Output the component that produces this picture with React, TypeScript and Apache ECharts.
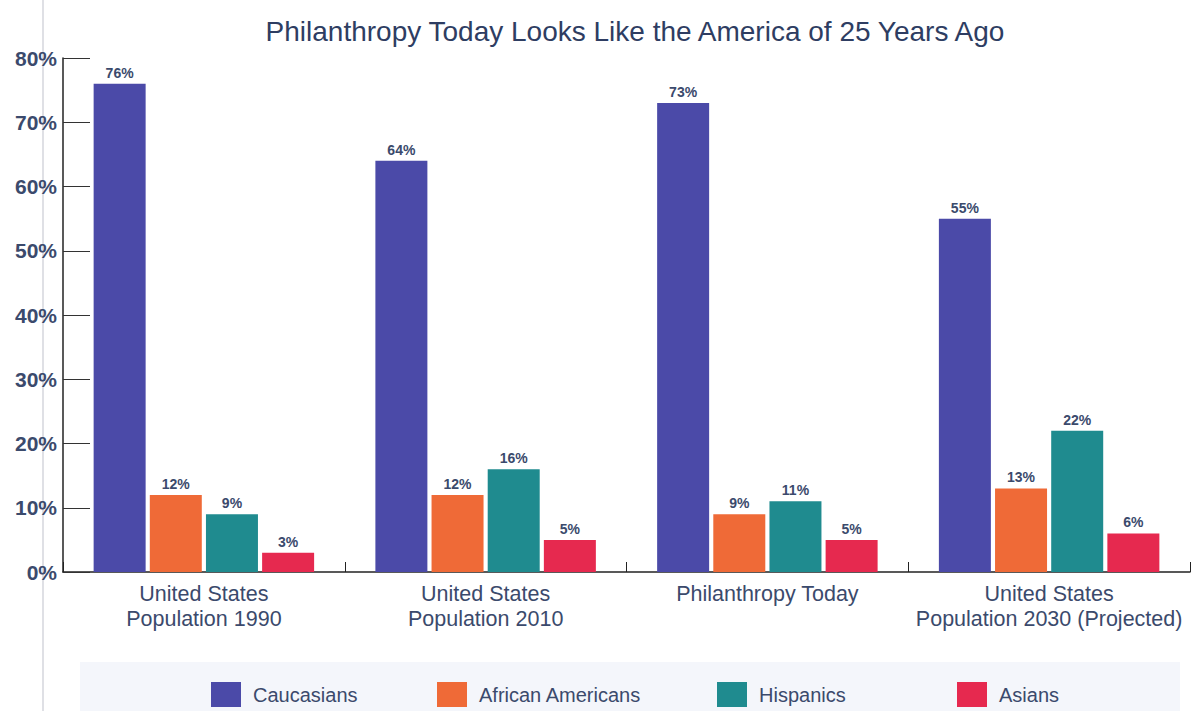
import React, { useEffect, useRef } from "react";
import * as echarts from "echarts";

const categories = [
  "United States\nPopulation 1990",
  "United States\nPopulation 2010",
  "Philanthropy Today",
  "United States\nPopulation 2030 (Projected)",
];
const seriesNames = ["Caucasians", "African Americans", "Hispanics", "Asians"];
const caucasians = [76, 64, 73, 55];
const africanAmericans = [12, 12, 9, 13];
const hispanics = [9, 16, 11, 22];
const asians = [3, 5, 5, 6];
const yTicks = [0, 10, 20, 30, 40, 50, 60, 70, 80];
const colors = ["#4b4aa8", "#ef6a37", "#1f8b8f", "#e6294f"];
const legendLefts = [211, 437, 717, 957];

const textColor = "#3b4a6c";

export default function App() {
  const ref = useRef<HTMLDivElement>(null);
  useEffect(() => {
    if (!ref.current) return;
    const chart = echarts.init(ref.current, undefined, { renderer: "svg" });
    const values = [caucasians, africanAmericans, hispanics, asians];
    const fontFamily = "Liberation Sans, Arial, sans-serif";
    chart.setOption({
      animation: false,
      backgroundColor: "#ffffff",
      textStyle: { fontFamily },
      title: {
        text: "Philanthropy Today Looks Like the America of 25 Years Ago",
        left: 630,
        textAlign: "center",
        top: 12,
        textStyle: { fontSize: 28, fontWeight: "normal", color: "#2e3d62", fontFamily },
      },
      graphic: [
        {
          type: "rect",
          left: 80,
          top: 662,
          shape: { width: 1100, height: 49 },
          style: { fill: "#f4f6fb" },
          z: -10,
        },
        {
          type: "line",
          shape: { x1: 43, y1: 0, x2: 43, y2: 711 },
          style: { stroke: "#d4d6dc", lineWidth: 1.5 },
          z: -9,
        },
      ],
      legend: seriesNames.map((n, i) => ({
        data: [n],
        left: legendLefts[i] - 5,
        top: 677,
        itemWidth: 30,
        itemHeight: 25,
        icon: "rect",
        itemGap: 10,
        textStyle: { fontSize: 20, color: textColor, fontFamily, padding: [0, 0, 0, 7] },
      })),
      grid: { left: 63, right: 4, top: 58, bottom: 139, containLabel: false },
      xAxis: {
        type: "category",
        data: categories,
        axisLine: { show: true, lineStyle: { color: "#222", width: 1.5 } },
        axisTick: { show: true, inside: true, length: 10, lineStyle: { color: "#222" } },
        axisLabel: {
          fontSize: 21.5,
          color: textColor,
          margin: 9,
          lineHeight: 25,
          interval: 0,
        },
      },
      yAxis: {
        type: "value",
        min: 0,
        max: 80,
        interval: 10,
        axisLine: { show: true, lineStyle: { color: "#222", width: 1.5 } },
        axisTick: { show: true, inside: true, length: 27, lineStyle: { color: "#333" } },
        splitLine: { show: false },
        axisLabel: {
          fontSize: 21,
          fontWeight: "bold",
          color: textColor,
          margin: 6,
          formatter: (v: number) => (yTicks.includes(v) ? v + "%" : ""),
        },
      },
      series: seriesNames.map((n, i) => ({
        name: n,
        type: "bar",
        data: values[i],
        barWidth: 52,
        barGap: "8%",
        itemStyle: { color: colors[i] },
        label: {
          show: true,
          position: "top",
          distance: 4,
          formatter: "{c}%",
          fontSize: 14,
          fontWeight: "bold",
          color: textColor,
        },
      })),
    });
    return () => chart.dispose();
  }, []);
  return (
    <div
      ref={ref}
      style={{ position: "fixed", left: 0, top: 0, width: 1194, height: 711 }}
    />
  );
}
